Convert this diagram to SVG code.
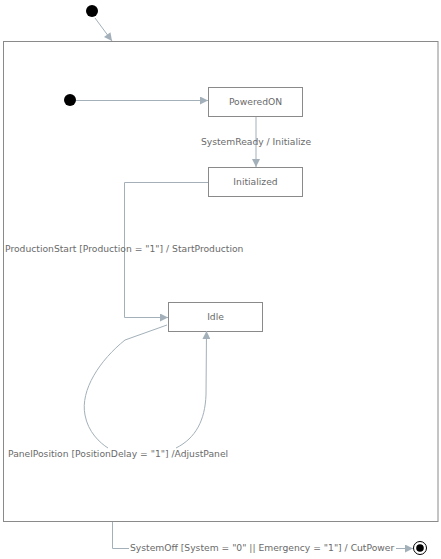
<svg xmlns="http://www.w3.org/2000/svg" width="441" height="559" viewBox="0 0 441 559">
<style>
.box{fill:#fff;stroke:#8a8a8a;stroke-width:1}
.lbl{font-family:"DejaVu Sans",Verdana,sans-serif;font-size:9.2px;fill:#6a6a6a}
.edge{fill:none;stroke:#a3b0b9;stroke-width:1}
.dot{fill:#000}
</style>
<defs>
<marker id="arr" viewBox="0 0 10 10" refX="10" refY="5" markerWidth="9" markerHeight="8" markerUnits="userSpaceOnUse" orient="auto">
<path d="M0,0 L10,5 L0,10 Z" fill="#a3b0b9"/>
</marker>
</defs>
<rect width="441" height="559" fill="#fff"/>
<g id="composite">
<rect class="box" x="3.5" y="41.5" width="434.5" height="480"/>
</g>
<g id="outer-initial"><circle class="dot" cx="92" cy="11" r="6"/></g>
<g id="inner-initial"><circle class="dot" cx="70" cy="100" r="6"/></g>
<g id="PoweredON">
<rect class="box" x="208.5" y="87.5" width="94" height="29"/>
<text class="lbl" x="255.5" y="105" text-anchor="middle">PoweredON</text>
</g>
<g id="Initialized">
<rect class="box" x="208.5" y="167.5" width="94" height="29"/>
<text class="lbl" x="255.5" y="185" text-anchor="middle">Initialized</text>
</g>
<g id="Idle">
<rect class="box" x="168.5" y="302.5" width="94" height="29"/>
<text class="lbl" x="215.5" y="320" text-anchor="middle">Idle</text>
</g>
<g id="final">
<circle cx="420" cy="548" r="6.5" fill="#fff" stroke="#000" stroke-width="1"/>
<circle class="dot" cx="420" cy="548" r="3.8"/>
</g>
<g id="connectors">
<path class="edge" d="M95,18 L112,41" marker-end="url(#arr)"/>
<path class="edge" d="M76,100.5 L208,100.5" marker-end="url(#arr)"/>
<path class="edge" d="M256,117 L256,167" marker-end="url(#arr)"/>
<path class="edge" d="M208,182.5 L124.5,182.5 L124.5,317.5 L168,317.5" marker-end="url(#arr)"/>
<path class="edge" d="M167,325 L125,340 C100,360 80,390 85,415 C88,432 100,443 108,448"/>
<path class="edge" d="M176,448 C196,438 205,420 206,395 L206.5,331" marker-end="url(#arr)"/>
<path class="edge" d="M112.5,522 L112.5,548.5 L129,548.5"/>
<path class="edge" d="M396,548.5 L413,548.5" marker-end="url(#arr)"/>
<text class="lbl" x="256" y="145" text-anchor="middle">SystemReady / Initialize</text>
<text class="lbl" x="5" y="252">ProductionStart [Production = "1"] / StartProduction</text>
<text class="lbl" x="8" y="457">PanelPosition [PositionDelay = "1"] /AdjustPanel</text>
<text class="lbl" x="130" y="551">SystemOff [System = "0" || Emergency = "1"] / CutPower</text>
</g>
</svg>
